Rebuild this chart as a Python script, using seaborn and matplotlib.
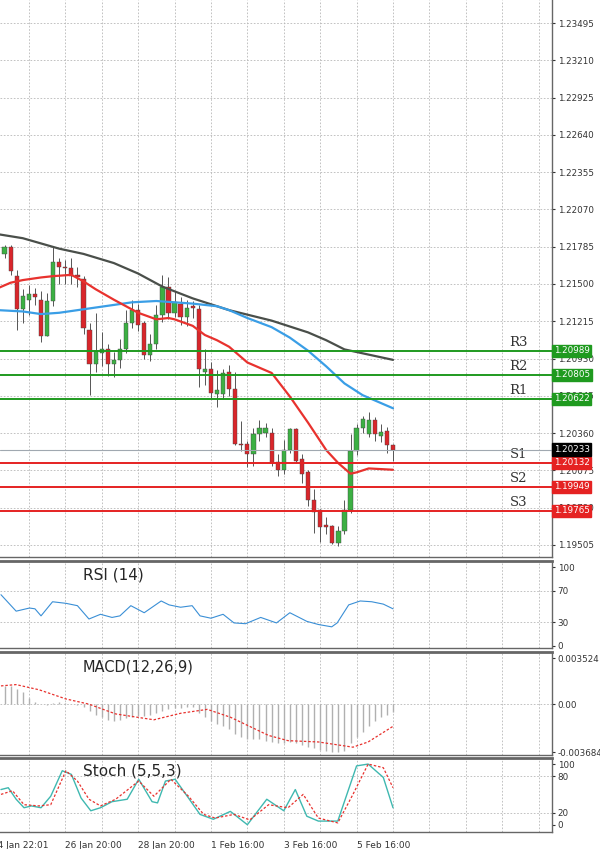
import numpy as np
import pandas as pd
import matplotlib
matplotlib.use("Agg")
import matplotlib.pyplot as plt
import matplotlib.transforms as mtrans
import seaborn as sns

sns.set_style("white")
plt.rcParams["font.family"] = "DejaVu Sans"

# ---------------- data ----------------
opens = [1.2173,1.2178,1.2156,1.2131,1.2138,1.2142,1.2138,1.2110,1.2137,1.2167,
         1.2163,1.2162,1.2157,1.2154,1.2115,1.2089,1.2097,1.2100,1.2089,1.2092,
         1.2100,1.2120,1.2130,1.2120,1.2096,1.2104,1.2126,1.2148,1.2128,1.2135,
         1.2125,1.2133,1.2131,1.2083,1.2085,1.2066,1.2066,1.2083,1.2070,1.2028,
         1.2028,1.2020,1.2035,1.2036,1.2036,1.2014,1.2008,1.2023,1.2039,1.2016,
         1.2006,1.1985,1.1977,1.1966,1.1965,1.1952,1.1961,1.1977,1.2022,1.2040,
         1.2035,1.2046,1.2034,1.2038,1.2027]
closes = [1.2178,1.2160,1.2131,1.2141,1.2142,1.2140,1.2110,1.2137,1.2167,1.2163,
          1.2162,1.2156,1.2155,1.2116,1.2089,1.2099,1.2100,1.2089,1.2092,1.2100,
          1.2120,1.2130,1.2119,1.2096,1.2104,1.2126,1.2148,1.2128,1.2136,1.2125,
          1.2132,1.2132,1.2085,1.2085,1.2067,1.2069,1.2082,1.2070,1.2028,1.2027,
          1.2020,1.2035,1.2040,1.2040,1.2013,1.2008,1.2023,1.2039,1.2015,1.2005,
          1.1985,1.1976,1.1964,1.1964,1.1952,1.1961,1.1977,1.2022,1.2040,1.2047,
          1.2046,1.2035,1.2037,1.2027,1.2023]
highs = [1.2180,1.2180,1.2161,1.2146,1.2149,1.2147,1.2145,1.2143,1.2178,1.2170,
         1.2168,1.2170,1.2163,1.2156,1.2120,1.2128,1.2113,1.2104,1.2098,1.2108,
         1.2130,1.2138,1.2135,1.2122,1.2112,1.2134,1.2157,1.2155,1.2145,1.2140,
         1.2138,1.2137,1.2134,1.2100,1.2090,1.2084,1.2085,1.2088,1.2083,1.2045,
         1.2030,1.2040,1.2046,1.2044,1.2040,1.2020,1.2031,1.2040,1.2040,1.2020,
         1.2008,1.1993,1.1978,1.1972,1.1966,1.1965,1.1985,1.2035,1.2043,1.2049,
         1.2052,1.2048,1.2043,1.2041,1.2028]
lows = [1.2170,1.2157,1.2115,1.2120,1.2126,1.2134,1.2106,1.2110,1.2133,1.2150,
        1.2150,1.2150,1.2148,1.2112,1.2065,1.2083,1.2087,1.2080,1.2079,1.2086,
        1.2097,1.2116,1.2114,1.2093,1.2091,1.2100,1.2121,1.2123,1.2125,1.2119,
        1.2118,1.2124,1.2071,1.2073,1.2063,1.2056,1.2062,1.2064,1.2027,1.2022,
        1.2010,1.2011,1.2030,1.2033,1.2011,1.2003,1.2005,1.2021,1.2013,1.1998,
        1.1980,1.1960,1.1953,1.1959,1.1951,1.1950,1.1959,1.1975,1.2019,1.2036,
        1.2033,1.2030,1.2029,1.2021,1.2015]

ma_gray_i = [-1, 3, 6, 9, 13, 18, 22, 26, 31, 37, 44, 50, 53, 56, 60, 64]
ma_gray = [1.2188, 1.2185, 1.2181, 1.2177, 1.2173, 1.2166, 1.2158, 1.2148, 1.2139, 1.2130,
           1.2122, 1.2113, 1.2107, 1.2100, 1.2096, 1.2092]
ma_blue_i = [-1, 3, 6, 9, 12, 15, 18, 21, 25, 28, 31, 35, 37, 40, 44, 47, 50, 53, 56, 59, 62, 64]
ma_blue = [1.2130, 1.2129, 1.2127, 1.2128, 1.2130, 1.2132, 1.2134, 1.2136, 1.2137, 1.2136,
           1.2135, 1.2133, 1.2130, 1.2124, 1.2117, 1.2109, 1.2099, 1.2087, 1.2074, 1.2065,
           1.2059, 1.2055]
ma_red_i = [-1, 1, 3, 6, 8, 11, 13, 15, 18, 20, 22, 25, 27, 28, 31, 33, 35, 37, 40, 42, 44,
            47, 50, 53, 55, 56, 57, 58, 60, 64]
ma_red = [1.2147, 1.2151, 1.2153, 1.2155, 1.2156, 1.2157, 1.2152, 1.2146, 1.2138, 1.2133,
          1.2128, 1.2123, 1.2124, 1.2123, 1.2118, 1.2111, 1.2107, 1.2102, 1.2090, 1.2086,
          1.2082, 1.2064, 1.2044, 1.2023, 1.2013, 1.2009, 1.2005, 1.2006, 1.2009, 1.2008]

level_names = ["R3", "R2", "R1", "S1", "S2", "S3"]
level_values = [1.20989, 1.20805, 1.20622, 1.20132, 1.19949, 1.19765]
current_price = 1.20233
price_ticks = [1.23495, 1.23210, 1.22925, 1.22640, 1.22355, 1.22070, 1.21785, 1.21500,
               1.21215, 1.20930, 1.20645, 1.20360, 1.20075, 1.19790, 1.19505]

rsi_i = [-0.6, 1.9, 4.1, 5, 6, 7.9, 10.1, 12, 13.9, 15.8, 17.7, 19, 20.8, 23, 25.8, 27.1,
         29, 30.9, 32.2, 34, 36, 37.8, 39.7, 42.2, 44.8, 47, 49.8, 51.7, 53.9, 54.8, 56.7,
         58.6, 60.5, 62.4, 64]
rsi = [65, 44, 48, 47, 38, 56, 54, 51, 34, 40, 36, 38, 51, 42, 57, 52, 49, 51, 38, 35, 40,
       29, 28, 36, 29, 42, 31, 27, 24, 29, 52, 57, 56, 53, 47]

macd_hist = [0.0014, 0.0014, 0.0012, 0.0009, 0.0005, 0.0002, 0.0000, -0.0001, 0.0001, 0.0002,
             0.0001, 0.0000, -0.0001, -0.0002, -0.0005, -0.0008, -0.0010, -0.0012, -0.0013, -0.0012,
             -0.0011, -0.0010, -0.0009, -0.0009, -0.0008, -0.0007, -0.0005, -0.0004, -0.0003, -0.0003,
             -0.0002, -0.0002, -0.0007, -0.0010, -0.0013, -0.0015, -0.0017, -0.0019, -0.0023, -0.0025,
             -0.0027, -0.0027, -0.0027, -0.0028, -0.0029, -0.0030, -0.0030, -0.0029, -0.0030, -0.0031,
             -0.0033, -0.0034, -0.0035, -0.0036, -0.0037, -0.0037, -0.0036, -0.0030, -0.0025, -0.0021,
             -0.0017, -0.0013, -0.0010, -0.0008, -0.0006]
macd_sig_i = [-0.6, 1.9, 5.7, 10.1, 13.9, 18.3, 24.6, 29, 33.4, 37.2, 43.5, 46.7, 51.7, 57.4, 59.9, 64]
macd_sig = [0.0014, 0.0015, 0.0011, 0.0004, 0.0000, -0.00075, -0.0012, -0.0007, -0.0004,
            -0.0010, -0.0024, -0.0028, -0.0029, -0.0033, -0.0029, -0.0017]

stoch_k_i = [-0.6, 0.6, 1.9, 3.2, 4.4, 6, 7.6, 9.5, 11, 12.6, 14.2, 15.8, 17.7, 20.2, 22.1,
             24.3, 25.2, 26.5, 28.1, 30.3, 32.2, 34.4, 37.2, 40, 43.2, 46, 47.9, 49.8, 51.7,
             54.9, 58, 59.9, 62.4, 64]
stoch_k = [58, 61, 42, 28, 31, 28, 47, 89, 83, 44, 23, 28, 38, 42, 75, 38, 36, 72, 75, 44,
           17, 9, 22, 0, 42, 23, 58, 14, 6, 6, 97, 100, 78, 28]
stoch_d_i = [-0.6, 1.3, 3.2, 5.7, 7.6, 10.1, 12, 13.9, 15.8, 18.3, 22.1, 24.6, 27.4, 30.3,
             32.8, 34.7, 37.8, 40.4, 43.5, 46.7, 49.2, 51.7, 54.9, 57.4, 59.9, 62.4, 64]
stoch_d = [50, 56, 33, 31, 33, 89, 72, 42, 31, 42, 72, 47, 75, 47, 17, 11, 17, 8, 33, 28,
           50, 11, 3, 50, 100, 94, 61]

date_labels = ["24 Jan 22:01", "26 Jan 20:00", "28 Jan 20:00", "1 Feb 16:00", "3 Feb 16:00", "5 Feb 16:00"]

# ---------------- layout ----------------
W, H = 600, 849
fig = plt.figure(figsize=(W / 100, H / 100), dpi=100)
fig.patch.set_facecolor("white")
axw = 552 / W

def mk(top, bot):
    return fig.add_axes([0, 1 - bot / H, axw, (bot - top) / H])

ax = mk(0, 557)
ax_rsi = mk(561, 648)
ax_macd = mk(652, 755)
ax_st = mk(758, 832)

XL = (-0.76, 90.2)
grid_x = np.arange(4, 91, 6)
for a in (ax, ax_rsi, ax_macd, ax_st):
    a.set_xlim(*XL)
    a.yaxis.tick_right()
    a.tick_params(axis="y", labelsize=6.3, colors="#333333", length=2, pad=2)
    a.set_xticks([])
    for x in grid_x:
        a.axvline(x, color="#b8b8b8", ls=(0, (2, 2)), lw=0.6, zorder=0)
    for s in a.spines.values():
        s.set_color("#666666")
        s.set_linewidth(1.0)
    a.spines["left"].set_visible(False)
    a.spines["top"].set_linewidth(2.0)

# ---------------- main chart ----------------
ax.set_ylim(1.19413, 1.23671)
ax.set_yticks(price_ticks)
ax.set_yticklabels([f"{t:.5f}" for t in price_ticks])
for t in price_ticks:
    ax.axhline(t, color="#b8b8b8", ls=(0, (2, 2)), lw=0.6, zorder=0)
ax.spines["top"].set_visible(False)

idx = np.arange(len(opens))
o = np.array(opens); c = np.array(closes)
up = c >= o
ax.vlines(idx, lows, highs, color="#555555", lw=0.7, zorder=3)
ax.bar(idx, np.maximum(np.abs(c - o), 0.00004), bottom=np.minimum(o, c), width=0.7,
       color=np.where(up, "#3cb043", "#d9262b"), edgecolor="#444444", linewidth=0.3, zorder=4)

sns.lineplot(x=ma_gray_i, y=ma_gray, ax=ax, color="#4a4f4a", lw=1.6, zorder=5)
sns.lineplot(x=ma_blue_i, y=ma_blue, ax=ax, color="#3a9ee6", lw=1.6, zorder=5)
sns.lineplot(x=ma_red_i, y=ma_red, ax=ax, color="#e8322e", lw=1.6, zorder=5)

trans = mtrans.blended_transform_factory(ax.transAxes, ax.transData)
for name, val in zip(level_names, level_values):
    colr = "#1f9a1f" if name.startswith("R") else "#e52222"
    ax.axhline(val, color=colr, lw=1.4, zorder=6)
    ax.text(0.94, val + 0.00015, name, transform=trans, ha="center", va="bottom",
            fontsize=9.5, color="#333333", family="DejaVu Serif")
    ax.text(1.003, val, f"{val:.5f}", transform=trans, ha="left", va="center", fontsize=6.3,
            color="white", clip_on=False, zorder=10,
            bbox=dict(boxstyle="square,pad=0.2", fc=colr, ec=colr))
ax.axhline(current_price, color="#a0a8b0", lw=0.8, zorder=6)
ax.text(1.003, current_price, f"{current_price:.5f}", transform=trans, ha="left", va="center",
        fontsize=6.3, color="white", clip_on=False, zorder=10,
        bbox=dict(boxstyle="square,pad=0.2", fc="black", ec="black"))

# ---------------- RSI ----------------
ax_rsi.set_ylim(-3, 108)
ax_rsi.set_yticks([100, 70, 30, 0])
for t in [70, 30]:
    ax_rsi.axhline(t, color="#b8b8b8", ls=(0, (2, 2)), lw=0.6, zorder=0)
sns.lineplot(x=rsi_i, y=rsi, ax=ax_rsi, color="#3a8fd6", lw=0.8)
ax_rsi.text(0.15, 0.93, "RSI (14)", transform=ax_rsi.transAxes, fontsize=11, va="top", ha="left")

# ---------------- MACD ----------------
ax_macd.set_ylim(-0.0039, 0.0040)
ax_macd.set_yticks([0.003524, 0.0, -0.003684])
ax_macd.set_yticklabels(["0.003524", "0.00", "-0.003684"])
ax_macd.axhline(0, color="#b8b8b8", ls=(0, (2, 2)), lw=0.6, zorder=0)
ax_macd.vlines(idx, 0, macd_hist, color="#b0b0b0", lw=1.0, zorder=2)
sns.lineplot(x=macd_sig_i, y=macd_sig, ax=ax_macd, color="#e8322e", lw=0.9, ls=(0, (2, 1.5)), zorder=3)
ax_macd.text(0.15, 0.93, "MACD(12,26,9)", transform=ax_macd.transAxes, fontsize=10.5, va="top", ha="left")

# ---------------- Stoch ----------------
ax_st.set_ylim(-12, 110)
ax_st.set_yticks([100, 80, 20, 0])
for t in [80, 20]:
    ax_st.axhline(t, color="#b8b8b8", ls=(0, (2, 2)), lw=0.6, zorder=0)
sns.lineplot(x=stoch_k_i, y=stoch_k, ax=ax_st, color="#3fb8b0", lw=1.0)
sns.lineplot(x=stoch_d_i, y=stoch_d, ax=ax_st, color="#e8322e", lw=0.9, ls=(0, (2, 1.5)))
ax_st.text(0.15, 0.93, "Stoch (5,5,3)", transform=ax_st.transAxes, fontsize=11, va="top", ha="left")

# date labels
dtr = mtrans.blended_transform_factory(ax_st.transData, ax_st.transAxes)
for k, lab in enumerate(date_labels):
    xi = -2 + 12 * k
    ax_st.text(xi, -0.12, lab, transform=dtr, fontsize=6.5, ha="left", va="top",
               color="#333333", clip_on=False)

fig.savefig("out.png", dpi=100, facecolor="white")
